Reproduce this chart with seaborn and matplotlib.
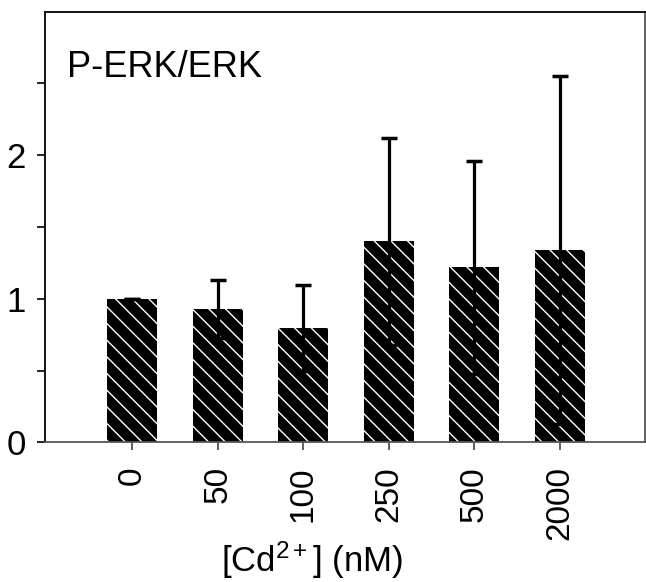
import matplotlib
matplotlib.use("Agg")
import matplotlib.pyplot as plt
import seaborn as sns
import numpy as np
import pandas as pd

# Data
concentrations = ["0", "50", "100", "250", "500", "2000"]
ratio_means = [1.00, 0.93, 0.80, 1.40, 1.22, 1.34]
ratio_errors = [0.00, 0.20, 0.30, 0.72, 0.74, 1.21]

sns.set_style("ticks")
plt.rcParams["font.family"] = ["Liberation Sans", "DejaVu Sans"]
plt.rcParams["mathtext.fontset"] = "custom"
plt.rcParams["mathtext.rm"] = "Liberation Sans"
plt.rcParams["mathtext.it"] = "Liberation Sans:italic"
plt.rcParams["mathtext.bf"] = "Liberation Sans:bold"
plt.rcParams["hatch.linewidth"] = 1.0
for k in ["text.color", "axes.labelcolor", "xtick.labelcolor", "ytick.labelcolor"]:
    plt.rcParams[k] = "black"

df = pd.DataFrame({"conc": concentrations, "ratio": ratio_means})

fig = plt.figure(figsize=(6.46, 5.82), dpi=100)
ax = fig.add_axes([0.0697, 0.2397, 0.9288, 0.7403])

sns.barplot(data=df, x="conc", y="ratio", order=concentrations, color="black",
            saturation=1, errorbar=None, width=0.585, hatch="\\\\",
            edgecolor="white", linewidth=0, ax=ax, zorder=2)

ax.errorbar(np.arange(len(concentrations)), ratio_means, yerr=ratio_errors,
            fmt="none", ecolor="black", elinewidth=2.3, capsize=5.8,
            capthick=2.5, zorder=3)

ax.set_xlim(-1.02, 6.0)
ax.set_ylim(0, 3.0)
ax.set_yticks([0, 1, 2])
ax.set_yticklabels(["0", "1", "2"])
ax.set_yticks([0.5, 1.5, 2.5], minor=True)

ax.tick_params(axis="y", which="both", direction="out", length=6, width=1.2,
               labelsize=25, pad=8, color="black", labelcolor="black")
ax.tick_params(axis="x", direction="out", length=6, width=1.2, labelsize=24,
               pad=11, color="#444444", labelcolor="black", labelrotation=90)

for side in ["left", "top"]:
    ax.spines[side].set_color("black")
    ax.spines[side].set_linewidth(1.3)
for side in ["bottom", "right"]:
    ax.spines[side].set_color("#555555")
    ax.spines[side].set_linewidth(1.3)
    ax.spines[side].set_visible(True)

ax.set_xlabel("[Cd$^{2+}$] (nM)", fontsize=25, labelpad=1, color="black")
ax.xaxis.set_label_coords(0.444, -0.225)
ax.xaxis.label.set_va("top")
ax.set_ylabel("")

ax.text(0.037, 0.848, "P-ERK/ERK", transform=ax.transAxes, fontsize=26,
        ha="left", va="baseline", color="black")

fig.savefig("out.png", dpi=100)
